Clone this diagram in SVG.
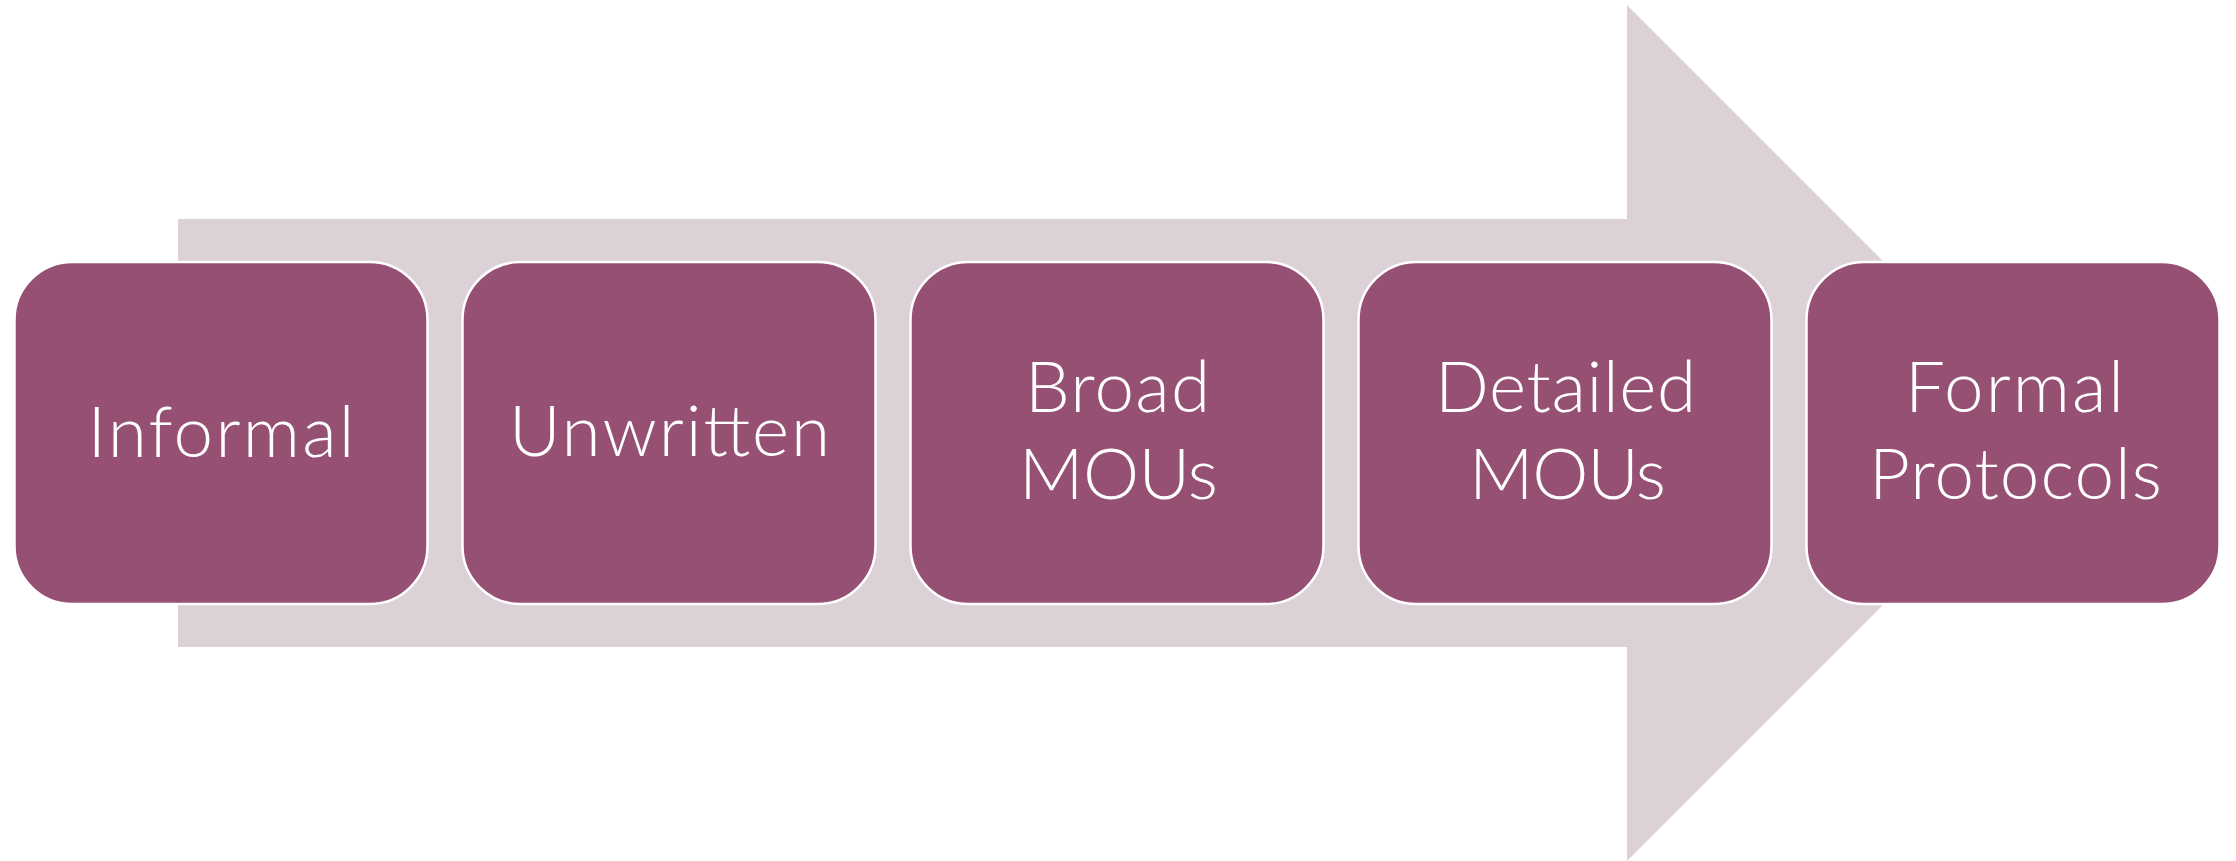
<svg xmlns="http://www.w3.org/2000/svg" width="2236" height="861" viewBox="0 0 2236 861">
  <style>
    .bg { fill: #ffffff; }
    .arrow { fill: #dcd1d6; }
    .box { fill: #965073; stroke: #ffffff; stroke-width: 2.5; }
    .label { fill: #ffffff; font-family: Lato, "Open Sans", "Liberation Sans", sans-serif; font-weight: 300; font-size: 71px; text-anchor: middle; }
  </style>
  <rect class="bg" x="0" y="0" width="2236" height="861"/>

  <!-- Background block arrow -->
  <g id="connectors">
    <path class="arrow" d="M178 219 H1627 V5 L2055 433 L1627 861 V647 H178 Z"/>
  </g>

  <g id="node-informal">
    <rect class="box" x="14.5" y="262" width="413" height="342" rx="58" ry="58"/>
    <text class="label" x="221" y="457" textLength="267" lengthAdjust="spacing">Informal</text>
  </g>

  <g id="node-unwritten">
    <rect class="box" x="462.5" y="262" width="413" height="342" rx="58" ry="58"/>
    <text class="label" x="669.5" y="456" textLength="321" lengthAdjust="spacing">Unwritten</text>
  </g>

  <g id="node-broad-mous">
    <rect class="box" x="910.5" y="262" width="413" height="342" rx="58" ry="58"/>
    <text class="label" x="1117.5" y="412" textLength="185" lengthAdjust="spacing">Broad</text>
    <text class="label" x="1118.5" y="499" textLength="199" lengthAdjust="spacing">MOUs</text>
  </g>

  <g id="node-detailed-mous">
    <rect class="box" x="1358.5" y="262" width="413" height="342" rx="58" ry="58"/>
    <text class="label" x="1565.5" y="412" textLength="261" lengthAdjust="spacing">Detailed</text>
    <text class="label" x="1567.5" y="499" textLength="197" lengthAdjust="spacing">MOUs</text>
  </g>

  <g id="node-formal-protocols">
    <rect class="box" x="1806.5" y="262" width="413" height="342" rx="58" ry="58"/>
    <text class="label" x="2014.5" y="412" textLength="219" lengthAdjust="spacing">Formal</text>
    <text class="label" x="2015.5" y="499" textLength="293" lengthAdjust="spacing">Protocols</text>
  </g>
</svg>
